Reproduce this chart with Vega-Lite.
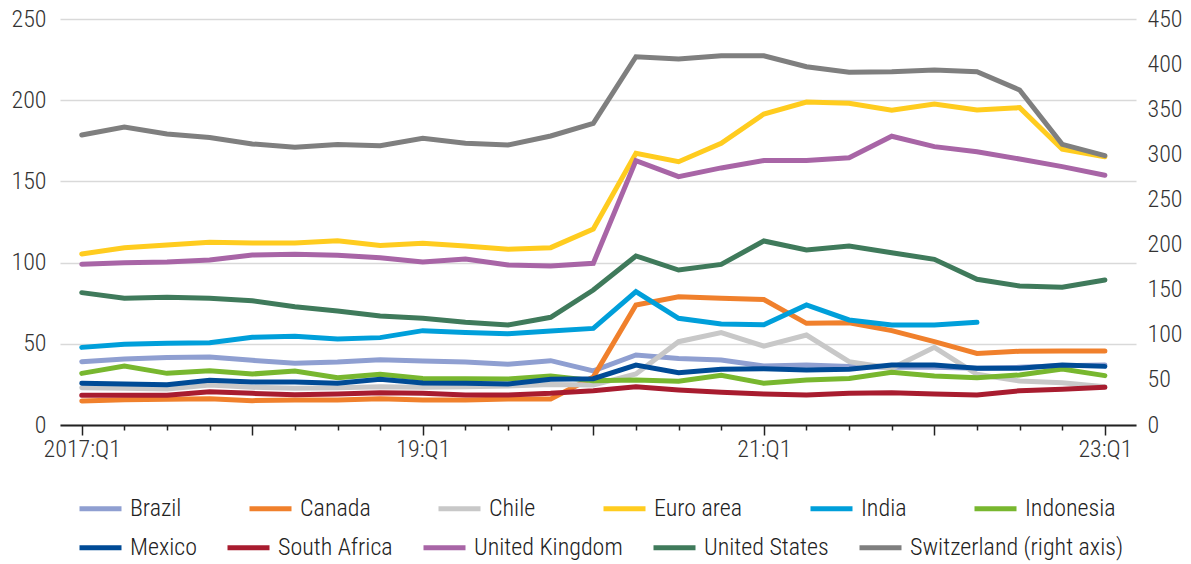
{
"$schema": "https://vega.github.io/schema/vega-lite/v6.json",
"width": 1076, "height": 406,
"autosize": {"type": "none"},
"padding": {"left": 60, "top": 19, "right": 55, "bottom": 139},
"background": "white",
"config": {"font": "Roboto Condensed, Liberation Sans Narrow, DejaVu Sans Condensed, sans-serif", "view": {"stroke": null}},
"data": {"values": [
{"t":0,"s":"Brazil","v":39.0},{"t":1,"s":"Brazil","v":40.6},{"t":2,"s":"Brazil","v":41.5},{"t":3,"s":"Brazil","v":41.9},{"t":4,"s":"Brazil","v":39.8},{"t":5,"s":"Brazil","v":38.0},{"t":6,"s":"Brazil","v":38.8},{"t":7,"s":"Brazil","v":40.2},{"t":8,"s":"Brazil","v":39.4},{"t":9,"s":"Brazil","v":38.8},{"t":10,"s":"Brazil","v":37.4},{"t":11,"s":"Brazil","v":39.6},{"t":12,"s":"Brazil","v":33.3},{"t":13,"s":"Brazil","v":43.1},{"t":14,"s":"Brazil","v":41.0},{"t":15,"s":"Brazil","v":40.0},{"t":16,"s":"Brazil","v":36.3},{"t":17,"s":"Brazil","v":37.0},{"t":18,"s":"Brazil","v":36.0},{"t":19,"s":"Brazil","v":35.5},{"t":20,"s":"Brazil","v":35.5},{"t":21,"s":"Brazil","v":35.0},{"t":22,"s":"Brazil","v":35.5},{"t":23,"s":"Brazil","v":36.5},{"t":24,"s":"Brazil","v":37.0},
{"t":0,"s":"Canada","v":14.8},{"t":1,"s":"Canada","v":15.6},{"t":2,"s":"Canada","v":15.8},{"t":3,"s":"Canada","v":16.2},{"t":4,"s":"Canada","v":15.0},{"t":5,"s":"Canada","v":15.4},{"t":6,"s":"Canada","v":15.4},{"t":7,"s":"Canada","v":16.2},{"t":8,"s":"Canada","v":15.4},{"t":9,"s":"Canada","v":15.4},{"t":10,"s":"Canada","v":16.0},{"t":11,"s":"Canada","v":16.0},{"t":12,"s":"Canada","v":29.5},{"t":13,"s":"Canada","v":73.9},{"t":14,"s":"Canada","v":79.0},{"t":15,"s":"Canada","v":78.0},{"t":16,"s":"Canada","v":77.3},{"t":17,"s":"Canada","v":62.6},{"t":18,"s":"Canada","v":63.0},{"t":19,"s":"Canada","v":58.1},{"t":20,"s":"Canada","v":51.3},{"t":21,"s":"Canada","v":44.1},{"t":22,"s":"Canada","v":45.4},{"t":23,"s":"Canada","v":45.6},{"t":24,"s":"Canada","v":45.6},
{"t":0,"s":"Chile","v":23.0},{"t":1,"s":"Chile","v":22.6},{"t":2,"s":"Chile","v":22.2},{"t":3,"s":"Chile","v":24.6},{"t":4,"s":"Chile","v":23.2},{"t":5,"s":"Chile","v":22.6},{"t":6,"s":"Chile","v":22.9},{"t":7,"s":"Chile","v":23.6},{"t":8,"s":"Chile","v":23.2},{"t":9,"s":"Chile","v":23.6},{"t":10,"s":"Chile","v":24.0},{"t":11,"s":"Chile","v":25.0},{"t":12,"s":"Chile","v":24.6},{"t":13,"s":"Chile","v":31.4},{"t":14,"s":"Chile","v":51.3},{"t":15,"s":"Chile","v":56.9},{"t":16,"s":"Chile","v":48.6},{"t":17,"s":"Chile","v":55.4},{"t":18,"s":"Chile","v":39.0},{"t":19,"s":"Chile","v":34.9},{"t":20,"s":"Chile","v":47.8},{"t":21,"s":"Chile","v":31.2},{"t":22,"s":"Chile","v":27.1},{"t":23,"s":"Chile","v":26.0},{"t":24,"s":"Chile","v":23.6},
{"t":0,"s":"Euro area","v":105.3},{"t":1,"s":"Euro area","v":109.2},{"t":2,"s":"Euro area","v":110.8},{"t":3,"s":"Euro area","v":112.5},{"t":4,"s":"Euro area","v":112.1},{"t":5,"s":"Euro area","v":112.1},{"t":6,"s":"Euro area","v":113.5},{"t":7,"s":"Euro area","v":110.6},{"t":8,"s":"Euro area","v":111.9},{"t":9,"s":"Euro area","v":110.2},{"t":10,"s":"Euro area","v":108.2},{"t":11,"s":"Euro area","v":109.2},{"t":12,"s":"Euro area","v":120.7},{"t":13,"s":"Euro area","v":167.3},{"t":14,"s":"Euro area","v":162.1},{"t":15,"s":"Euro area","v":173.5},{"t":16,"s":"Euro area","v":191.5},{"t":17,"s":"Euro area","v":198.9},{"t":18,"s":"Euro area","v":198.1},{"t":19,"s":"Euro area","v":193.8},{"t":20,"s":"Euro area","v":197.7},{"t":21,"s":"Euro area","v":194.0},{"t":22,"s":"Euro area","v":195.4},{"t":23,"s":"Euro area","v":169.8},{"t":24,"s":"Euro area","v":165.2},
{"t":0,"s":"India","v":47.8},{"t":1,"s":"India","v":49.7},{"t":2,"s":"India","v":50.3},{"t":3,"s":"India","v":50.7},{"t":4,"s":"India","v":54.0},{"t":5,"s":"India","v":54.6},{"t":6,"s":"India","v":53.0},{"t":7,"s":"India","v":53.8},{"t":8,"s":"India","v":58.1},{"t":9,"s":"India","v":56.9},{"t":10,"s":"India","v":56.2},{"t":11,"s":"India","v":57.9},{"t":12,"s":"India","v":59.5},{"t":13,"s":"India","v":82.1},{"t":14,"s":"India","v":65.7},{"t":15,"s":"India","v":62.2},{"t":16,"s":"India","v":61.7},{"t":17,"s":"India","v":73.9},{"t":18,"s":"India","v":64.7},{"t":19,"s":"India","v":61.6},{"t":20,"s":"India","v":61.6},{"t":21,"s":"India","v":63.2},
{"t":0,"s":"Indonesia","v":31.8},{"t":1,"s":"Indonesia","v":36.3},{"t":2,"s":"Indonesia","v":31.8},{"t":3,"s":"Indonesia","v":33.4},{"t":4,"s":"Indonesia","v":31.4},{"t":5,"s":"Indonesia","v":33.3},{"t":6,"s":"Indonesia","v":29.1},{"t":7,"s":"Indonesia","v":31.2},{"t":8,"s":"Indonesia","v":28.6},{"t":9,"s":"Indonesia","v":28.5},{"t":10,"s":"Indonesia","v":28.3},{"t":11,"s":"Indonesia","v":30.2},{"t":12,"s":"Indonesia","v":27.3},{"t":13,"s":"Indonesia","v":27.7},{"t":14,"s":"Indonesia","v":26.9},{"t":15,"s":"Indonesia","v":30.6},{"t":16,"s":"Indonesia","v":25.7},{"t":17,"s":"Indonesia","v":27.7},{"t":18,"s":"Indonesia","v":28.7},{"t":19,"s":"Indonesia","v":32.4},{"t":20,"s":"Indonesia","v":30.2},{"t":21,"s":"Indonesia","v":29.1},{"t":22,"s":"Indonesia","v":30.8},{"t":23,"s":"Indonesia","v":34.5},{"t":24,"s":"Indonesia","v":30.4},
{"t":0,"s":"Mexico","v":25.7},{"t":1,"s":"Mexico","v":25.2},{"t":2,"s":"Mexico","v":24.8},{"t":3,"s":"Mexico","v":27.5},{"t":4,"s":"Mexico","v":26.5},{"t":5,"s":"Mexico","v":26.5},{"t":6,"s":"Mexico","v":25.7},{"t":7,"s":"Mexico","v":28.1},{"t":8,"s":"Mexico","v":25.8},{"t":9,"s":"Mexico","v":25.7},{"t":10,"s":"Mexico","v":25.2},{"t":11,"s":"Mexico","v":28.1},{"t":12,"s":"Mexico","v":28.5},{"t":13,"s":"Mexico","v":36.9},{"t":14,"s":"Mexico","v":32.2},{"t":15,"s":"Mexico","v":34.3},{"t":16,"s":"Mexico","v":34.7},{"t":17,"s":"Mexico","v":33.9},{"t":18,"s":"Mexico","v":34.3},{"t":19,"s":"Mexico","v":36.9},{"t":20,"s":"Mexico","v":36.9},{"t":21,"s":"Mexico","v":34.9},{"t":22,"s":"Mexico","v":34.9},{"t":23,"s":"Mexico","v":36.9},{"t":24,"s":"Mexico","v":36.1},
{"t":0,"s":"South Africa","v":18.3},{"t":1,"s":"South Africa","v":18.3},{"t":2,"s":"South Africa","v":18.3},{"t":3,"s":"South Africa","v":20.5},{"t":4,"s":"South Africa","v":19.5},{"t":5,"s":"South Africa","v":18.7},{"t":6,"s":"South Africa","v":19.1},{"t":7,"s":"South Africa","v":19.9},{"t":8,"s":"South Africa","v":19.5},{"t":9,"s":"South Africa","v":18.5},{"t":10,"s":"South Africa","v":18.5},{"t":11,"s":"South Africa","v":19.5},{"t":12,"s":"South Africa","v":21.1},{"t":13,"s":"South Africa","v":23.6},{"t":14,"s":"South Africa","v":21.6},{"t":15,"s":"South Africa","v":20.1},{"t":16,"s":"South Africa","v":19.1},{"t":17,"s":"South Africa","v":18.5},{"t":18,"s":"South Africa","v":19.5},{"t":19,"s":"South Africa","v":19.9},{"t":20,"s":"South Africa","v":19.1},{"t":21,"s":"South Africa","v":18.5},{"t":22,"s":"South Africa","v":21.1},{"t":23,"s":"South Africa","v":22.0},{"t":24,"s":"South Africa","v":23.2},
{"t":0,"s":"United Kingdom","v":99.0},{"t":1,"s":"United Kingdom","v":99.9},{"t":2,"s":"United Kingdom","v":100.4},{"t":3,"s":"United Kingdom","v":101.6},{"t":4,"s":"United Kingdom","v":104.7},{"t":5,"s":"United Kingdom","v":105.1},{"t":6,"s":"United Kingdom","v":104.5},{"t":7,"s":"United Kingdom","v":103.0},{"t":8,"s":"United Kingdom","v":100.4},{"t":9,"s":"United Kingdom","v":102.2},{"t":10,"s":"United Kingdom","v":98.5},{"t":11,"s":"United Kingdom","v":97.9},{"t":12,"s":"United Kingdom","v":99.6},{"t":13,"s":"United Kingdom","v":162.8},{"t":14,"s":"United Kingdom","v":152.9},{"t":15,"s":"United Kingdom","v":158.3},{"t":16,"s":"United Kingdom","v":162.8},{"t":17,"s":"United Kingdom","v":162.8},{"t":18,"s":"United Kingdom","v":164.6},{"t":19,"s":"United Kingdom","v":177.8},{"t":20,"s":"United Kingdom","v":171.4},{"t":21,"s":"United Kingdom","v":168.3},{"t":22,"s":"United Kingdom","v":163.8},{"t":23,"s":"United Kingdom","v":159.1},{"t":24,"s":"United Kingdom","v":153.8},
{"t":0,"s":"United States","v":81.5},{"t":1,"s":"United States","v":78.0},{"t":2,"s":"United States","v":78.6},{"t":3,"s":"United States","v":78.0},{"t":4,"s":"United States","v":76.5},{"t":5,"s":"United States","v":72.8},{"t":6,"s":"United States","v":70.2},{"t":7,"s":"United States","v":67.1},{"t":8,"s":"United States","v":65.7},{"t":9,"s":"United States","v":63.2},{"t":10,"s":"United States","v":61.6},{"t":11,"s":"United States","v":66.3},{"t":12,"s":"United States","v":83.1},{"t":13,"s":"United States","v":104.1},{"t":14,"s":"United States","v":95.4},{"t":15,"s":"United States","v":98.9},{"t":16,"s":"United States","v":113.3},{"t":17,"s":"United States","v":107.8},{"t":18,"s":"United States","v":110.2},{"t":19,"s":"United States","v":106.1},{"t":20,"s":"United States","v":102.0},{"t":21,"s":"United States","v":89.7},{"t":22,"s":"United States","v":85.6},{"t":23,"s":"United States","v":84.8},{"t":24,"s":"United States","v":89.3},
{"t":0,"s":"Switzerland (right axis)","v":321.4},{"t":1,"s":"Switzerland (right axis)","v":330.3},{"t":2,"s":"Switzerland (right axis)","v":322.5},{"t":3,"s":"Switzerland (right axis)","v":318.7},{"t":4,"s":"Switzerland (right axis)","v":311.5},{"t":5,"s":"Switzerland (right axis)","v":307.8},{"t":6,"s":"Switzerland (right axis)","v":310.9},{"t":7,"s":"Switzerland (right axis)","v":309.6},{"t":8,"s":"Switzerland (right axis)","v":317.8},{"t":9,"s":"Switzerland (right axis)","v":312.2},{"t":10,"s":"Switzerland (right axis)","v":310.4},{"t":11,"s":"Switzerland (right axis)","v":320.3},{"t":12,"s":"Switzerland (right axis)","v":334.4},{"t":13,"s":"Switzerland (right axis)","v":408.2},{"t":14,"s":"Switzerland (right axis)","v":405.7},{"t":15,"s":"Switzerland (right axis)","v":409.3},{"t":16,"s":"Switzerland (right axis)","v":409.3},{"t":17,"s":"Switzerland (right axis)","v":397.1},{"t":18,"s":"Switzerland (right axis)","v":391.0},{"t":19,"s":"Switzerland (right axis)","v":391.6},{"t":20,"s":"Switzerland (right axis)","v":393.5},{"t":21,"s":"Switzerland (right axis)","v":391.6},{"t":22,"s":"Switzerland (right axis)","v":371.3},{"t":23,"s":"Switzerland (right axis)","v":311.1},{"t":24,"s":"Switzerland (right axis)","v":298.5}
]},
"layer": [
{
"layer": [
{
"transform": [{"filter": {"field": "s", "oneOf": ["Brazil","Canada","Chile","Euro area","India","Indonesia"]}}],
"mark": {"type": "line", "strokeWidth": 5, "strokeCap": "round"},
"encoding": {
"x": {"field": "t", "type": "quantitative", "scale": {"domain": [-0.51, 24.73], "nice": false, "zero": false},
"axis": {"values": [0,1,2,3,4,5,6,7,8,9,10,11,12,13,14,15,16,17,18,19,20,21,22,23,24], "title": null, "grid": false,
"labelExpr": "datum.value === 0 ? '2017:Q1' : (datum.value % 8 === 0 ? (17 + datum.value/4) + ':Q1' : '')",
"domainColor": "#222", "domainWidth": 2, "tickColor": "#222", "tickWidth": 1.5,
"tickSize": {"condition": {"test": "datum.value % 4 === 0", "value": 10}, "value": 5},
"labelFontSize": 24, "labelFontWeight": 300, "labelColor": "#333", "labelPadding": 2, "labelFlush": false, "labelOverlap": false}},
"y": {"field": "v", "type": "quantitative", "scale": {"domain": [0, 250], "nice": false},
"axis": {"values": [0,50,100,150,200,250], "title": null, "grid": true, "gridColor": "#d9d9d9", "gridWidth": 1.5, "domain": false, "ticks": false, "labelFontSize": 24, "labelFontWeight": 300, "labelColor": "#333", "labelPadding": 14}},
"color": {"field": "s", "type": "nominal",
"scale": {"domain": ["Brazil","Canada","Chile","Euro area","India","Indonesia"], "range": ["#8f9fd1","#f0802c","#c8c8c8","#ffcc1f","#009fda","#78b72f"]},
"legend": {"title": null, "orient": "none", "legendX": 17, "legendY": 466, "direction": "horizontal", "columns": 6, "columnPadding": 57, "padding": 0, "symbolType": "stroke", "symbolStrokeWidth": 5, "symbolSize": 1764, "labelFontSize": 24, "labelFontWeight": 300, "labelColor": "#222", "labelOffset": 6, "labelLimit": 400}}
}
},
{
"transform": [{"filter": {"field": "s", "oneOf": ["Mexico","South Africa","United Kingdom","United States"]}}],
"mark": {"type": "line", "strokeWidth": 5, "strokeCap": "round"},
"encoding": {
"x": {"field": "t", "type": "quantitative"},
"y": {"field": "v", "type": "quantitative"},
"stroke": {"field": "s", "type": "nominal",
"scale": {"domain": ["Mexico","South Africa","United Kingdom","United States","Switzerland (right axis)"], "range": ["#004b96","#a81c2f","#a865a6","#3f7a5b","#7f7f7f"]},
"legend": {"title": null, "orient": "none", "legendX": 17, "legendY": 505, "direction": "horizontal", "columns": 5, "columnPadding": 20, "padding": 0, "symbolType": "stroke", "symbolStrokeWidth": 5, "symbolSize": 1764, "labelFontSize": 24, "labelFontWeight": 300, "labelColor": "#222", "labelOffset": 6, "labelLimit": 400}}
}
}
]
},
{
"transform": [{"filter": {"field": "s", "equal": "Switzerland (right axis)"}}],
"mark": {"type": "line", "strokeWidth": 5, "strokeCap": "round"},
"encoding": {
"x": {"field": "t", "type": "quantitative"},
"y": {"field": "v", "type": "quantitative", "scale": {"domain": [0, 450], "nice": false},
"axis": {"orient": "right", "values": [0,50,100,150,200,250,300,350,400,450], "title": null, "grid": false, "domain": false, "ticks": false, "labelFontSize": 24, "labelFontWeight": 300, "labelColor": "#333", "labelPadding": 11}},
"stroke": {"field": "s", "type": "nominal"}
}
}
],
"resolve": {"scale": {"y": "independent"}}
}
